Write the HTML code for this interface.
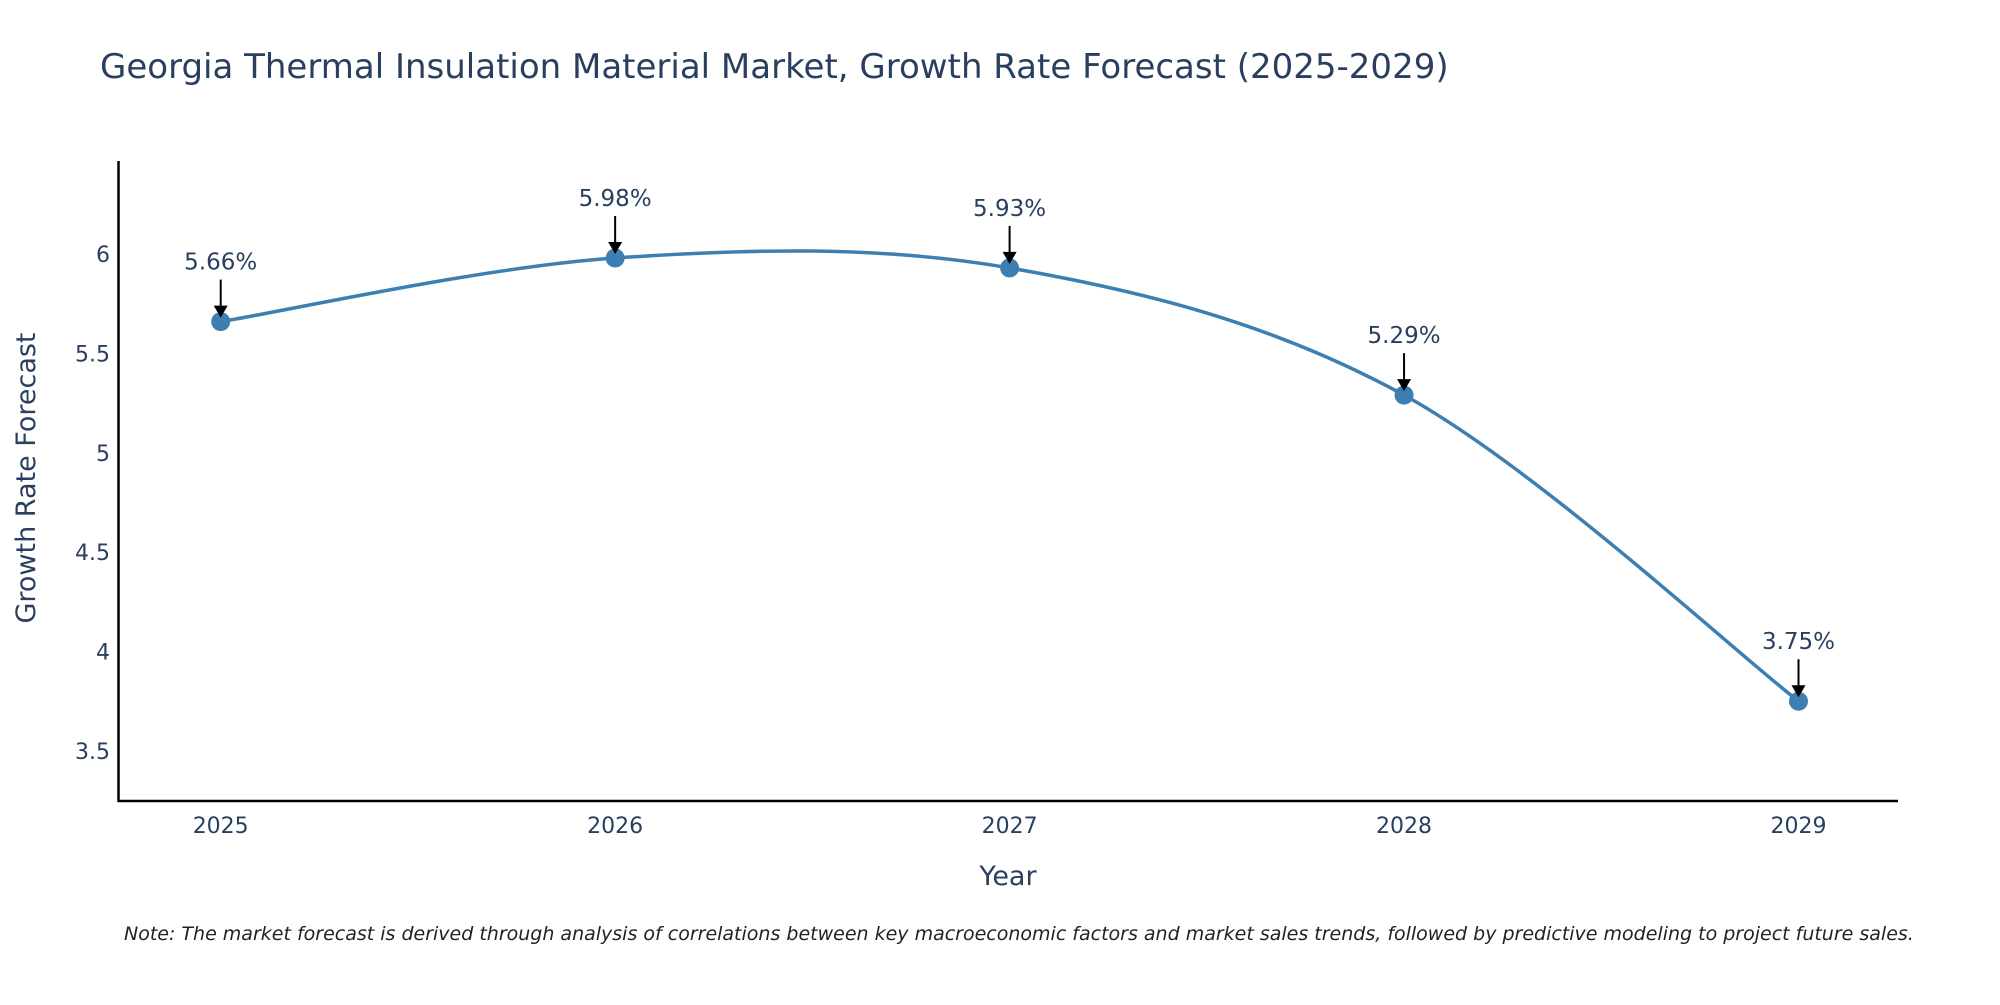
<!DOCTYPE html>
<html><head><meta charset="utf-8"><style>
html,body{margin:0;padding:0;background:#fff;overflow:hidden;}
svg text{font-family:"DejaVu Sans","Liberation Sans",sans-serif;}
</style></head><body>
<svg id="chart" width="2000" height="1000" viewBox="0 0 2000 1000" xmlns="http://www.w3.org/2000/svg">
<rect width="2000" height="1000" fill="#fff"/>
<text x="100" y="78" font-size="34" fill="#2a3f5f">Georgia Thermal Insulation Material Market, Growth Rate Forecast (2025-2029)</text>
<g id="yticks"></g>
<g id="xticks"></g>
<line x1="118.5" y1="161" x2="118.5" y2="802" stroke="#000" stroke-width="2.5"/>
<line x1="118" y1="801" x2="1898" y2="801" stroke="#000" stroke-width="2.5"/>
<path id="series" fill="none" stroke="#3d7fb0" stroke-width="3.5"/>
<g id="points"></g>
<g id="annotations"></g>
<text x="1008" y="885" font-size="27" fill="#2a3f5f" text-anchor="middle">Year</text>
<text transform="translate(35,478) rotate(-90)" font-size="27" fill="#2a3f5f" text-anchor="middle">Growth Rate Forecast</text>
<text x="124" y="940" font-size="19" font-style="italic" fill="#222">Note: The market forecast is derived through analysis of correlations between key macroeconomic factors and market sales trends, followed by predictive modeling to project future sales.</text>
</svg>
<script>
const years = [2025, 2026, 2027, 2028, 2029];
const growthRates = [5.66, 5.98, 5.93, 5.29, 3.75];
const yTickValues = [3.5, 4, 4.5, 5, 5.5, 6];
const yTickLabels = ["3.5", "4", "4.5", "5", "5.5", "6"];

const NS = "http://www.w3.org/2000/svg";
const yMin = 3.248, yMax = 6.468, plotTop = 161, plotBottom = 801;
const xFirst = 220.7, xLast = 1798.5;
function xScale(v){ return xFirst + (v - years[0]) * (xLast - xFirst) / (years[years.length-1] - years[0]); }
function yScale(v){ return plotBottom - (v - yMin) * (plotBottom - plotTop) / (yMax - yMin); }
function mk(tag, attrs, parent){ const e = document.createElementNS(NS, tag); for (const k in attrs) e.setAttribute(k, attrs[k]); parent.appendChild(e); return e; }

const yt = document.getElementById('yticks');
yTickValues.forEach((v, i) => {
  const t = mk('text', {x: 110, y: yScale(v) + 8, 'font-size': 22, fill: '#2a3f5f', 'text-anchor': 'end'}, yt);
  
  
  t.textContent = yTickLabels[i];
});
const xt = document.getElementById('xticks');
years.forEach(y => {
  const t = mk('text', {x: xScale(y), y: 833, 'font-size': 22, fill: '#2a3f5f', 'text-anchor': 'middle'}, xt);
  
  
  t.textContent = String(y);
});

const pts = years.map((y, i) => [xScale(y), yScale(growthRates[i])]);
let d = `M${pts[0][0]},${pts[0][1]}`;
for (let i = 0; i < pts.length - 1; i++) {
  const p0 = pts[i-1] || pts[i], p1 = pts[i], p2 = pts[i+1], p3 = pts[i+2] || pts[i+1];
  const c1 = [p1[0] + (p2[0]-p0[0])/6, p1[1] + (p2[1]-p0[1])/6];
  const c2 = [p2[0] - (p3[0]-p1[0])/6, p2[1] - (p3[1]-p1[1])/6];
  d += ` C${c1[0]},${c1[1]} ${c2[0]},${c2[1]} ${p2[0]},${p2[1]}`;
}
document.getElementById('series').setAttribute('d', d);

const pg = document.getElementById('points');
const ag = document.getElementById('annotations');
pts.forEach((p, i) => {
  const c = mk('circle', {cx: p[0], cy: p[1], r: 9.5, fill: '#3d7fb0'}, pg);
  
  
  const l = mk('line', {x1: p[0], y1: p[1] - 42, x2: p[0], y2: p[1] - 14, stroke: '#000', 'stroke-width': 2}, ag);
  
  
  const h = mk('path', {d: `M${p[0]-7},${p[1]-16} L${p[0]+7},${p[1]-16} L${p[0]},${p[1]-4} Z`, fill: '#000'}, ag);
  
  
  const t = mk('text', {x: p[0], y: p[1] - 52, 'font-size': 23, fill: '#2a3f5f', 'text-anchor': 'middle'}, ag);
  
  
  t.textContent = growthRates[i].toFixed(2) + '%';
});
</script>
</body></html>
